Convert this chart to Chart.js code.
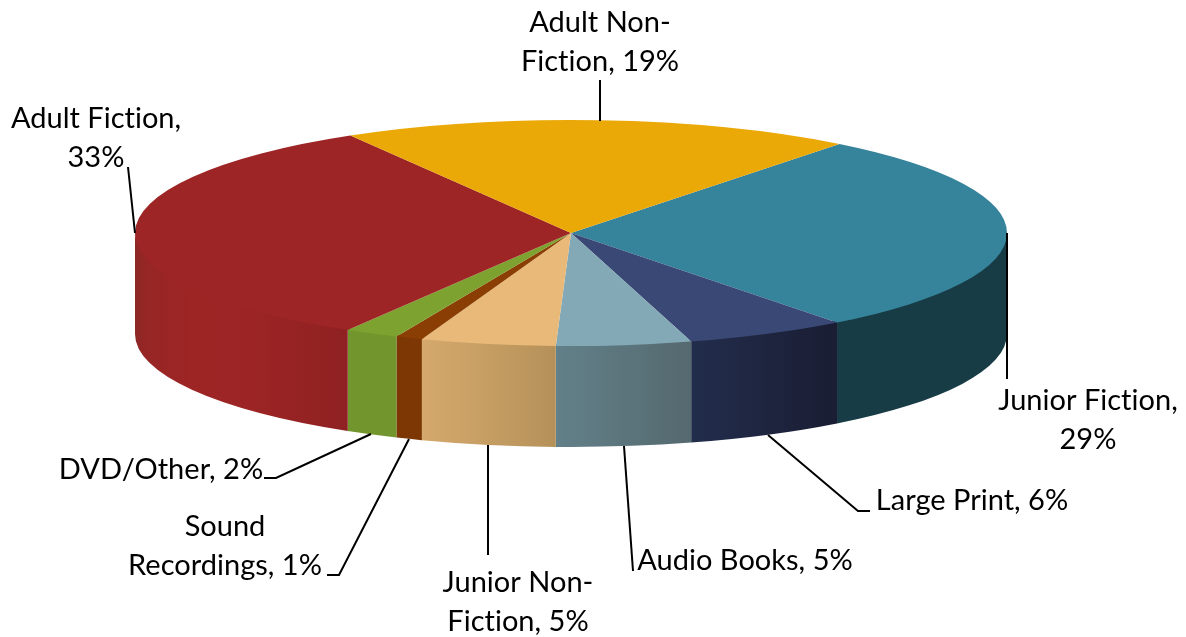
<!DOCTYPE html>
<html>
<head>
<meta charset="utf-8">
<title>Library collection</title>
<script src="https://cdn.jsdelivr.net/npm/chart.js@4"></script>
<style>
    html, body { margin: 0; padding: 0; background: #fff; }
    #wrap { position: relative; width: 1186px; height: 637px; }
</style>
</head>
<body>
<div id="wrap"><canvas id="pieChart"></canvas></div>
<script>
// Values, clockwise from the first slice
const categories = ['Junior Fiction', 'Large Print', 'Audio Books', 'Junior Non-Fiction', 'Sound Recordings', 'DVD/Other', 'Adult Fiction', 'Adult Non-Fiction'];
const shares = [29, 6, 5, 5, 1, 2, 33, 19];
const labelLines = [
    ['Junior Fiction,', '29%'],
    ['Large Print, 6%'],
    ['Audio Books, 5%'],
    ['Junior Non-', 'Fiction, 5%'],
    ['Sound', 'Recordings, 1%'],
    ['DVD/Other, 2%'],
    ['Adult Fiction,', '33%'],
    ['Adult Non-', 'Fiction, 19%']
];

// Colours of the top face and of the side wall (left and right of the gradient)
const topColors = ['#35849c', '#3a4875', '#83a9b6', '#e9b979', '#8a3e03', '#7da22f', '#9e2525', '#eba908'];
const wallColors = [
    [[0, '#173c45'], [1, '#173c45']],
    [[0, '#222d4c'], [1, '#1a1d33']],
    [[0, '#628089'], [1, '#55696f']],
    [[0, '#d5a96d'], [1, '#b59159']],
    [[0, '#7c3705'], [1, '#7c3705']],
    [[0, '#72952d'], [1, '#72952d']],
    [[0, '#8d2726'], [0.05, '#962625'], [0.25, '#9d2524'], [0.55, '#9c2424'], [1, '#8f2122']],
    [[0, '#eba908'], [1, '#eba908']]
];

// Label placement: centre x, first baseline, leader line
const labelLayout = [
    { x: 1088, y: 410, leader: [[1007, 233], [1007, 379]] },
    { x: 972, y: 510, leader: [[768, 435], [858, 511], [870, 511]] },
    { x: 745, y: 570, leader: [[624, 446], [633, 571]] },
    { x: 518, y: 592, leader: [[488, 445], [488, 555]] },
    { x: 225, y: 536, leader: [[409, 439], [339, 575], [327, 575]] },
    { x: 161, y: 479, leader: [[371, 434], [276, 478], [264, 478]] },
    { x: 96, y: 128, leader: [[128, 167], [135, 233]] },
    { x: 600, y: 32, leader: [[600, 80], [600, 121]] }
];

const LINE_HEIGHT = 39;
const RADIUS_X = 436;
const RADIUS_Y = 113;
const DEPTH = 101;

// Squash the library's pie into a tilted disc and draw the wall below it
const tiltedPie = {
    id: 'tiltedPie',
    beforeDatasetsDraw(chart) {
        const ctx = chart.ctx;
        const arcs = chart.getDatasetMeta(0).data;
        const cx = arcs[0].x;
        const cy = arcs[0].y;

        arcs.forEach((arc, i) => {
            const from = Math.max(arc.startAngle, 0);
            const to = Math.min(arc.endAngle, Math.PI);
            if (to <= from) return;

            const x0 = cx + RADIUS_X * Math.cos(from);
            const x1 = cx + RADIUS_X * Math.cos(to);
            // gradient runs left to right across the visible piece of wall
            const gradient = ctx.createLinearGradient(Math.min(x0, x1), 0, Math.max(x0, x1), 0);
            wallColors[i].forEach(([stop, color]) => gradient.addColorStop(stop, color));

            // start a little above the rim so no white shows through the seam
            ctx.beginPath();
            ctx.ellipse(cx, cy - 2, RADIUS_X, RADIUS_Y, 0, from, to);
            ctx.ellipse(cx, cy + DEPTH, RADIUS_X, RADIUS_Y, 0, to, from, true);
            ctx.closePath();
            ctx.fillStyle = gradient;
            ctx.fill();
        });

        ctx.save();
        ctx.translate(cx, cy);
        ctx.scale(RADIUS_X / arcs[0].outerRadius, RADIUS_Y / arcs[0].outerRadius);
        ctx.translate(-cx, -cy);
    },
    afterDatasetsDraw(chart) {
        const ctx = chart.ctx;
        ctx.restore();

        ctx.strokeStyle = '#000';
        ctx.lineWidth = 2;
        labelLayout.forEach(({ leader }) => {
            ctx.beginPath();
            leader.forEach(([x, y], i) => (i ? ctx.lineTo(x, y) : ctx.moveTo(x, y)));
            ctx.stroke();
        });

        ctx.fillStyle = '#000';
        ctx.font = '29px Lato';
        ctx.letterSpacing = '0.01px'; // keeps the ti ligature off
        ctx.textAlign = 'center';
        ctx.textBaseline = 'alphabetic';
        labelLayout.forEach(({ x, y }, i) => {
            labelLines[i].forEach((line, n) => ctx.fillText(line, x, y + n * LINE_HEIGHT));
        });
    }
};

new Chart(document.getElementById('pieChart'), {
    type: 'pie',
    data: {
        labels: categories,
        datasets: [{
            data: shares,
            backgroundColor: topColors,
            borderWidth: 0,
            clip: false
        }]
    },
    options: {
        responsive: true,
        maintainAspectRatio: false,
        animation: false,
        rotation: 38,
        // puts the pie centre at 571,233
        layout: { padding: { right: 44, bottom: 171 } },
        plugins: {
            legend: { display: false },
            tooltip: { enabled: false }
        }
    },
    plugins: [tiltedPie]
});
</script>
</body>
</html>
